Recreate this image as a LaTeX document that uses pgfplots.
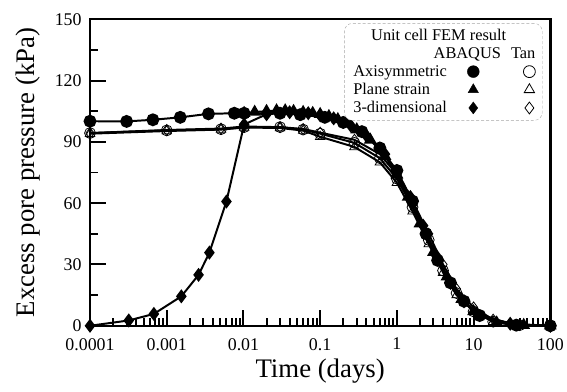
\documentclass[border={13pt 5pt 0pt 10pt}]{standalone}
\usepackage{fontspec}
\setmainfont{Liberation Serif}
\usepackage{pgfplots}
\pgfplotsset{compat=1.18}
\begin{document}
\begin{tikzpicture}
\begin{axis}[
  scale only axis, width=464pt, height=309pt,
  xmode=log, xmin=1e-4, xmax=100, ymin=0, ymax=150,
  ytick={0,30,60,90,120,150}, minor ytick={15,45,75,105,135},
  xtick={1e-4,1e-3,1e-2,1e-1,1,10,100},
  xticklabels={0.0001,0.001,0.01,0.1,1,10,100},
  minor xtick={2e-4,3e-4,4e-4,5e-4,6e-4,7e-4,8e-4,9e-4,
               2e-3,3e-3,4e-3,5e-3,6e-3,7e-3,8e-3,9e-3,
               2e-2,3e-2,4e-2,5e-2,6e-2,7e-2,8e-2,9e-2,
               0.2,0.3,0.4,0.5,0.6,0.7,0.8,0.9,
               2,3,4,5,6,7,8,9,20,30,40,50,60,70,80,90},
  tick align=inside, xtick pos=bottom, ytick pos=left,
  major tick length=16pt, minor tick length=8pt,
  tick style={line width=2pt, black},
  axis line style={line width=2.5pt},
  tick label style={font=\fontsize{18}{20}\selectfont},
  xticklabel style={yshift=-9pt},
  yticklabel style={xshift=-5pt},
  /pgf/number format/assume math mode=true,
  xlabel={Time (days)}, ylabel={Excess pore pressure (kPa)},
  label style={font=\fontsize{27}{30}\selectfont},
  xlabel style={at={(axis description cs:0.5,-0.149)}, anchor=center},
  ylabel style={at={(axis description cs:-0.134,0.5)}, anchor=center},
  clip=false,
  legend columns=3, legend plot pos=right, legend cell align=left,
  legend style={at={(0.983,0.987)}, anchor=north east, draw=gray!70,
    dash pattern=on 3pt off 2pt, rounded corners=8pt, fill=white,
    font=\fontsize{16.5}{18}\selectfont, column sep=0pt, row sep=1.5pt,
    inner xsep=7pt, inner ysep=4pt},
]
\addlegendimage{empty legend}
\addlegendentry{\makebox[0pt][l]{\hspace{18pt}Unit cell FEM result}}
\addlegendimage{empty legend}\addlegendentry{}
\addlegendimage{empty legend}\addlegendentry{}
\addlegendimage{empty legend}
\addlegendentry{\makebox[0pt][l]{\hspace{81pt}ABAQUS}\makebox[0pt][l]{\hspace{159pt}Tan}}
\addlegendimage{empty legend}\addlegendentry{}
\addlegendimage{empty legend}\addlegendentry{}
\addlegendimage{empty legend}\addlegendentry{Axisymmetric}
\addlegendimage{only marks, black, mark=*, mark size=6pt, mark options={solid}}\addlegendentry{\rule{12pt}{0pt}}
\addlegendimage{only marks, black, mark=o, mark size=6pt, mark options={solid, line width=0.8pt}}\addlegendentry{\rule{38pt}{0pt}}
\addlegendimage{empty legend}\addlegendentry{Plane strain}
\addlegendimage{only marks, black, mark=triangle*, mark size=6pt, mark options={solid}}\addlegendentry{\rule{12pt}{0pt}}
\addlegendimage{only marks, black, mark=triangle, mark size=6pt, mark options={solid, line width=0.8pt}}\addlegendentry{\rule{38pt}{0pt}}
\addlegendimage{empty legend}\addlegendentry{3-dimensional}
\addlegendimage{only marks, black, mark=diamond*, mark size=6pt, mark options={solid}}\addlegendentry{\rule{12pt}{0pt}}
\addlegendimage{only marks, black, mark=diamond, mark size=6pt, mark options={solid, line width=0.8pt}}\addlegendentry{\rule{38pt}{0pt}}

% Tan axisymmetric
\addplot[forget plot, black, line width=2pt, mark=o, mark size=5.5pt, mark options={line width=0.8pt}] coordinates {
(1e-4,94.3)(1e-3,95.6)(5.1e-3,96.2)(0.0102,97.2)(0.03,97.2)(0.06,96)(0.1,94)(0.28,89.5)(0.6,82)(1,72)(1.6,58)(2.6,42)(4,27)(6,16)(10,7)(18,2)(40,0.3)(100,0)};
% Tan plane strain
\addplot[forget plot, black, line width=2pt, mark=triangle, mark size=5.5pt, mark options={line width=0.8pt}] coordinates {
(1e-4,94)(1e-3,95.3)(5.1e-3,96)(0.0102,97)(0.03,96.8)(0.06,95.5)(0.1,92.5)(0.28,87.5)(0.6,80)(1,70)(1.6,56)(2.6,40)(4,26)(6,15)(10,7)(18,2)(35,0.2)(100,0)};
% Tan 3D
\addplot[forget plot, black, line width=2pt, mark=diamond, mark size=5.5pt, mark options={line width=0.8pt}] coordinates {
(1e-4,94.3)(1e-3,95.8)(5.1e-3,96.5)(0.0102,97.5)(0.03,97.2)(0.06,96.3)(0.1,94.5)(0.28,91)(0.6,84)(1,74)(1.6,61)(2.6,45)(4,30)(6,18)(10,9)(18,3)(40,0.5)(100,0)};
% ABAQUS axisymmetric
\addplot[forget plot, black, line width=2pt, mark=*, mark size=5.5pt] coordinates {
(1e-4,100.1)(3e-4,100)(6.6e-4,100.8)(1.5e-3,102)(3.5e-3,103.7)(7.6e-3,104)(0.0102,104)(0.03,104)(0.055,103.3)(0.115,102)(0.2,99.5)(0.35,95)(0.6,87)(1,76)(1.6,61)(2.4,45)(3.4,32)(5,21)(7.5,12)(12,5)(36,0.3)(100,0)};
% ABAQUS plane strain
\addplot[forget plot, black, line width=2pt, mark=triangle*, mark size=5.5pt] coordinates {
(0.0102,104)(0.014,104.6)(0.02,105)(0.027,105.3)(0.035,105.3)(0.045,105)(0.06,104.5)(0.08,104)(0.1,103.5)(0.13,102.5)(0.17,101)(0.22,99)(0.3,96)(0.45,91)(0.7,83)(1,74)(1.4,63)(2,50)(3,36)(4.5,24)(7,13)(10,7)(20,1.5)(45,0.3)(100,0)};
% ABAQUS 3D
\addplot[forget plot, black, line width=2pt, mark=diamond*, mark size=5.5pt] coordinates {
(1e-4,0)(3.2e-4,2.6)(6.8e-4,5.8)(1.55e-3,14.4)(2.6e-3,24.9)(3.6e-3,35.8)(6e-3,60.8)(0.0102,98.5)(0.02,103.5)(0.04,104.5)(0.07,104)(0.1,103)(0.15,101.5)(0.25,98)(0.4,93)(0.7,84)(1,75)(1.5,63)(2.2,49)(3.3,34)(5,21)(7.5,12)(11,6)(30,1)(100,0)};
\end{axis}
\end{tikzpicture}
\end{document}
